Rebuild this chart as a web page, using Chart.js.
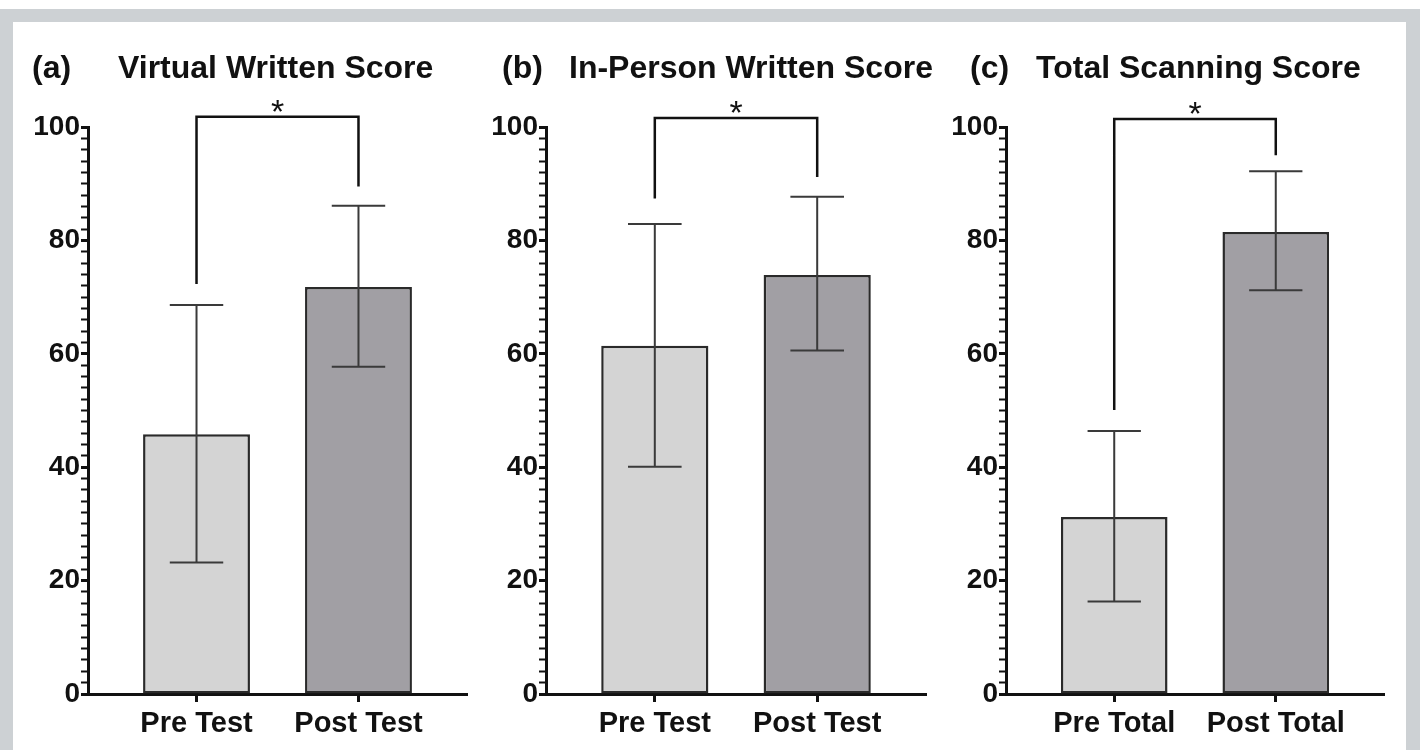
<!DOCTYPE html>
<html>
<head>
<meta charset="utf-8">
<script src="https://cdn.jsdelivr.net/npm/chart.js@4.4.0/dist/chart.umd.min.js"></script>
<style>
  html, body { margin: 0; padding: 0; background: #fff; }
  #frame { position: absolute; left: 0; top: 9px; width: 1420px; height: 741px; background: #cdd1d4; }
  #inner { position: absolute; left: 13px; top: 13px; width: 1393px; height: 728px; background: #fff; }
  canvas { position: absolute; left: 0; top: 0; }
</style>
</head>
<body>
<div id="frame"><div id="inner"></div></div>
<canvas id="chartA" width="1420" height="750"></canvas>
<canvas id="chartB" width="1420" height="750"></canvas>
<canvas id="chartC" width="1420" height="750"></canvas>
<script>
// data, one entry per panel
const panelLetters = ["(a)", "(b)", "(c)"];
const panelTitles = ["Virtual Written Score", "In-Person Written Score", "Total Scanning Score"];
const groupLabels = [["Pre Test", "Post Test"], ["Pre Test", "Post Test"], ["Pre Total", "Post Total"]];
const meanScores = [[45.8, 71.8], [61.4, 73.9], [31.2, 81.5]];
const errUpper = [[68.6, 86.1], [82.9, 87.7], [46.4, 92.2]];
const errLower = [[23.2, 57.7], [40.1, 60.6], [16.3, 71.2]];
const sigTop = [101.8, 101.6, 101.4];
const sigLegEnds = [[72.3, 89.5], [87.4, 91.2], [50.1, 95.0]];
const sigMarks = ["*", "*", "*"];
const yMajorTicks = [0, 20, 40, 60, 80, 100];

// layout
const panels = [
  { id: "chartA", axisLeft: 88, axisRight: 467, letterX: 32, titleX: 118 },
  { id: "chartB", axisLeft: 546, axisRight: 926, letterX: 502, titleX: 569 },
  { id: "chartC", axisLeft: 1006, axisRight: 1384, letterX: 970, titleX: 1036 }
];
const plotTop = 127, plotBottom = 694, titleBaseline = 78;
const yAxisW = 70, xAxisH = 50;
const FONT = '"Liberation Sans", Arial, Helvetica, sans-serif';
const barColors = ["#d4d4d4", "#a19fa4"];

const annotate = {
  id: "annotate",
  afterDatasetsDraw(chart, args, opts) {
    const k = opts.panel;
    const ctx = chart.ctx;
    const y = chart.scales.y;
    const bars = chart.getDatasetMeta(0).data;
    ctx.save();
    // error bars
    ctx.strokeStyle = "#3a3a3a";
    ctx.lineWidth = 2;
    for (let i = 0; i < bars.length; i++) {
      const cx = bars[i].x, half = bars[i].width * 0.25;
      const yt = y.getPixelForValue(errUpper[k][i]);
      const yb = y.getPixelForValue(errLower[k][i]);
      ctx.beginPath();
      ctx.moveTo(cx, yt); ctx.lineTo(cx, yb);
      ctx.moveTo(cx - half, yt); ctx.lineTo(cx + half, yt);
      ctx.moveTo(cx - half, yb); ctx.lineTo(cx + half, yb);
      ctx.stroke();
    }
    // significance bracket
    const x0 = bars[0].x, x1 = bars[1].x;
    const top = y.getPixelForValue(sigTop[k]);
    ctx.strokeStyle = "#111";
    ctx.lineWidth = 2.5;
    ctx.beginPath();
    ctx.moveTo(x0, y.getPixelForValue(sigLegEnds[k][0]));
    ctx.lineTo(x0, top);
    ctx.lineTo(x1, top);
    ctx.lineTo(x1, y.getPixelForValue(sigLegEnds[k][1]));
    ctx.stroke();
    ctx.fillStyle = "#111";
    ctx.font = "34px " + FONT;
    ctx.textAlign = "center";
    ctx.textBaseline = "alphabetic";
    ctx.fillText(sigMarks[k], (x0 + x1) / 2, top + 6);
    ctx.restore();
  },
  afterDraw(chart, args, opts) {
    const k = opts.panel, p = panels[k];
    const ctx = chart.ctx;
    ctx.save();
    ctx.fillStyle = "#111";
    ctx.font = "bold 32px " + FONT;
    ctx.textAlign = "left";
    ctx.textBaseline = "alphabetic";
    ctx.fillText(panelLetters[k], p.letterX, titleBaseline);
    ctx.fillText(panelTitles[k], p.titleX, titleBaseline);
    ctx.restore();
  }
};

panels.forEach((p, k) => {
  new Chart(document.getElementById(p.id), {
    type: "bar",
    data: {
      datasets: [{
        data: meanScores[k].map((v, i) => ({ x: i + 1, y: v })),
        backgroundColor: barColors,
        borderColor: "#2a2a2a",
        borderWidth: 2.5,
        borderSkipped: false,
        categoryPercentage: 1,
        barPercentage: 0.66
      }]
    },
    options: {
      responsive: false,
      animation: false,
      devicePixelRatio: 1,
      layout: {
        padding: {
          left: p.axisLeft - yAxisW,
          right: 1420 - p.axisRight,
          top: plotTop,
          bottom: 750 - plotBottom - xAxisH
        }
      },
      plugins: {
        legend: { display: false },
        tooltip: { enabled: false },
        annotate: { panel: k }
      },
      scales: {
        x: {
          type: "linear",
          offset: false,
          min: 0.33,
          max: 2.67,
          afterBuildTicks: (s) => { s.ticks = [{ value: 1 }, { value: 2 }]; },
          afterFit: (s) => { s.height = xAxisH; },
          ticks: {
            autoSkip: false,
            maxRotation: 0,
            padding: 5,
            color: "#111",
            font: { family: FONT, size: 29, weight: "bold" },
            callback: (v, i) => groupLabels[k][i]
          },
          grid: { offset: false, drawOnChartArea: false, tickLength: 8, tickWidth: 3, tickColor: "#111" },
          border: { width: 3, color: "#111" }
        },
        y: {
          min: 0,
          max: 100,
          afterFit: (s) => { s.width = yAxisW; },
          ticks: {
            stepSize: 2,
            autoSkip: false,
            padding: 1,
            color: "#111",
            font: { family: FONT, size: 28, weight: "bold" },
            callback: (v) => yMajorTicks.includes(v) ? v : ""
          },
          grid: {
            drawOnChartArea: false,
            tickLength: 7,
            tickWidth: (c) => yMajorTicks.includes(c.tick.value) ? 3 : 2,
            tickColor: "#111"
          },
          border: { width: 3, color: "#111" }
        }
      }
    },
    plugins: [annotate]
  });
});
</script>
</body>
</html>
